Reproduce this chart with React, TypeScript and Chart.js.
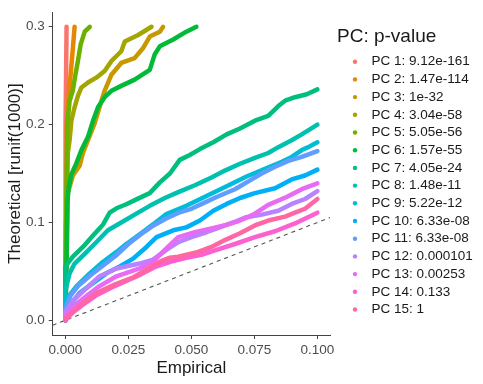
import React, { useEffect, useRef } from "react";
import { Chart, registerables } from "chart.js";

Chart.register(...registerables);

// ---- axis ticks ----
const xTicks = [0, 0.025, 0.05, 0.075, 0.1];
const yTicks = [0, 0.1, 0.2, 0.3];
const xRange = [-0.005, 0.105];
const yRange = [-0.015, 0.315];

// ---- legend ----
const legendTitle = "PC: p-value";
const seriesLabels = [
  "PC 1: 9.12e-161",
  "PC 2: 1.47e-114",
  "PC 3: 1e-32",
  "PC 4: 3.04e-58",
  "PC 5: 5.05e-56",
  "PC 6: 1.57e-55",
  "PC 7: 4.05e-24",
  "PC 8: 1.48e-11",
  "PC 9: 5.22e-12",
  "PC 10: 6.33e-08",
  "PC 11: 6.33e-08",
  "PC 12: 0.000101",
  "PC 13: 0.00253",
  "PC 14: 0.133",
  "PC 15: 1",
];
const seriesColors = [
  "#F8766D", "#E58700", "#C99800", "#A3A500", "#6BB100",
  "#00BA38", "#00BF7D", "#00C0AF", "#00BCD8", "#00B0F6",
  "#619CFF", "#B983FF", "#E76BF3", "#FD61D1", "#FF67A4",
];

// ---- reference diagonal (y = x) ----
const diagonal = [-0.005, 0.105];

// ---- series: [empirical, theoretical] ----
const pc1 = [[0, 0], [0, 0.1], [0.0002, 0.2], [0.0005, 0.3]];
const pc2 = [[0, 0], [0.0003, 0.1], [0.0006, 0.2], [0.0013, 0.228], [0.0021, 0.251], [0.003, 0.278], [0.0037, 0.3]];
const pc3 = [[0, 0], [0.0005, 0.06], [0.001, 0.13], [0.003, 0.148], [0.0057, 0.158], [0.007, 0.171], [0.009, 0.184], [0.0116, 0.201], [0.0136, 0.218], [0.0156, 0.2346], [0.0183, 0.251], [0.0222, 0.263], [0.0275, 0.268], [0.0308, 0.278], [0.0335, 0.29], [0.0375, 0.295], [0.0388, 0.3]];
const pc4 = [[0, 0], [0.0005, 0.1], [0.001, 0.171], [0.0017, 0.184], [0.0024, 0.204], [0.0037, 0.218], [0.005, 0.2295], [0.0064, 0.238], [0.009, 0.243], [0.0123, 0.248], [0.0156, 0.2547], [0.0183, 0.265], [0.0222, 0.275], [0.0236, 0.285], [0.0289, 0.2916], [0.0342, 0.3]];
const pc5 = [[0, 0], [0.0003, 0.1], [0.0008, 0.2], [0.0017, 0.224], [0.003, 0.235], [0.004, 0.251], [0.005, 0.265], [0.0061, 0.282], [0.0077, 0.295], [0.0097, 0.3]];
const pc6 = [[0, 0], [0.0005, 0.06], [0.0008, 0.12], [0.0013, 0.135], [0.0024, 0.149], [0.0044, 0.1606], [0.0064, 0.174], [0.009, 0.1875], [0.011, 0.204], [0.013, 0.218], [0.0156, 0.228], [0.0183, 0.2346], [0.0222, 0.2396], [0.0275, 0.246], [0.0335, 0.256], [0.0355, 0.272], [0.0375, 0.28], [0.0428, 0.287], [0.048, 0.295], [0.052, 0.3]];
const pc7 = [[0, 0], [0, 0.055], [0.003, 0.065], [0.007, 0.075], [0.011, 0.0867], [0.015, 0.098], [0.0176, 0.11], [0.0203, 0.1145], [0.0242, 0.1186], [0.0282, 0.1236], [0.0335, 0.13], [0.0375, 0.141], [0.0415, 0.15], [0.0454, 0.164], [0.0494, 0.169], [0.0534, 0.175], [0.0587, 0.182], [0.064, 0.19], [0.0693, 0.196], [0.0752, 0.204], [0.0805, 0.209], [0.0845, 0.219], [0.0872, 0.2245], [0.0911, 0.228], [0.0958, 0.231], [0.1, 0.236]];
const pc8 = [[0, 0], [0, 0.03], [0.0017, 0.048], [0.0037, 0.058], [0.0077, 0.068], [0.0116, 0.078], [0.0169, 0.092], [0.0222, 0.1], [0.0275, 0.108], [0.0335, 0.117], [0.0395, 0.125], [0.0448, 0.131], [0.0514, 0.138], [0.058, 0.146], [0.0633, 0.153], [0.0693, 0.16], [0.0752, 0.166], [0.0805, 0.171], [0.0845, 0.177], [0.0898, 0.184], [0.0938, 0.19], [0.1, 0.2]];
const pc9 = [[0, 0], [0, 0.02], [0.0044, 0.0346], [0.0097, 0.048], [0.015, 0.0598], [0.0203, 0.0699], [0.0242, 0.078], [0.0295, 0.088], [0.0348, 0.098], [0.0401, 0.1085], [0.048, 0.117], [0.056, 0.127], [0.064, 0.137], [0.0719, 0.147], [0.0799, 0.1555], [0.0859, 0.162], [0.0898, 0.167], [0.0938, 0.174], [0.0964, 0.177], [0.1, 0.182]];
const pc10 = [[0, 0], [0, 0.01], [0.0057, 0.028], [0.011, 0.038], [0.0163, 0.048], [0.0216, 0.055], [0.0269, 0.063], [0.0322, 0.075], [0.0362, 0.085], [0.0428, 0.092], [0.048, 0.095], [0.0534, 0.102], [0.0587, 0.112], [0.064, 0.119], [0.0693, 0.125], [0.0752, 0.13], [0.0832, 0.135], [0.0898, 0.144], [0.0951, 0.148], [0.1, 0.154]];
const pc11 = [[0, 0], [0, 0.012], [0.002, 0.025], [0.005, 0.035], [0.01, 0.046], [0.015, 0.056], [0.02, 0.066], [0.025, 0.078], [0.03, 0.088], [0.035, 0.097], [0.04, 0.104], [0.045, 0.11], [0.05, 0.114], [0.055, 0.12], [0.06, 0.126], [0.0673, 0.134], [0.0726, 0.142], [0.0779, 0.15], [0.0832, 0.157], [0.0885, 0.163], [0.0938, 0.167], [0.1, 0.173]];
const pc12 = [[0, 0], [0, 0.008], [0.003, 0.02], [0.008, 0.032], [0.0136, 0.045], [0.0203, 0.053], [0.0295, 0.058], [0.0348, 0.062], [0.0401, 0.072], [0.0448, 0.08], [0.05, 0.085], [0.056, 0.09], [0.0613, 0.095], [0.0666, 0.1], [0.0713, 0.105], [0.0779, 0.108], [0.0845, 0.112], [0.0898, 0.119], [0.0951, 0.124], [0.1, 0.132]];
const pc13 = [[0, 0], [0, 0.005], [0.004, 0.016], [0.009, 0.026], [0.0136, 0.035], [0.0203, 0.045], [0.0295, 0.053], [0.0348, 0.06], [0.0395, 0.072], [0.0448, 0.085], [0.0514, 0.09], [0.058, 0.094], [0.0646, 0.098], [0.0693, 0.102], [0.0746, 0.108], [0.0805, 0.118], [0.0878, 0.126], [0.0938, 0.134], [0.1, 0.14]];
const pc14 = [[0, 0], [0.003, 0.008], [0.007, 0.016], [0.012, 0.025], [0.018, 0.033], [0.024, 0.04], [0.03, 0.047], [0.036, 0.055], [0.042, 0.06], [0.048, 0.064], [0.054, 0.067], [0.06, 0.072], [0.0673, 0.078], [0.0752, 0.085], [0.0832, 0.091], [0.0911, 0.099], [0.1, 0.11]];
const pc15 = [[0, 0], [0, 0.002], [0.004, 0.011], [0.008, 0.02], [0.014, 0.03], [0.02, 0.037], [0.027, 0.044], [0.033, 0.053], [0.0375, 0.06], [0.0415, 0.064], [0.0448, 0.065], [0.0527, 0.07], [0.058, 0.075], [0.0633, 0.082], [0.0693, 0.089], [0.0752, 0.097], [0.0805, 0.102], [0.0872, 0.106], [0.0911, 0.11], [0.0951, 0.114], [0.1, 0.124]];

const seriesData = [pc1, pc2, pc3, pc4, pc5, pc6, pc7, pc8, pc9, pc10, pc11, pc12, pc13, pc14, pc15];

const FONT = '"Liberation Sans", Arial, Helvetica, sans-serif';

const legendPlugin = {
  id: "ggLegend",
  afterDraw(chart: any) {
    const ctx = chart.ctx as CanvasRenderingContext2D;
    ctx.save();
    ctx.textAlign = "left";
    ctx.textBaseline = "middle";
    ctx.fillStyle = "#1a1a1a";
    ctx.font = `19px ${FONT}`;
    ctx.fillText(legendTitle, 337, 37);
    ctx.font = `13.5px ${FONT}`;
    seriesLabels.forEach((lab, i) => {
      const y = 61.7 + i * 17.7;
      ctx.fillStyle = seriesColors[i];
      ctx.beginPath();
      ctx.arc(355, y, 2.2, 0, Math.PI * 2);
      ctx.fill();
      ctx.fillStyle = "#1a1a1a";
      ctx.fillText(lab, 371.5, y);
    });
    ctx.restore();
  },
};

export default function App() {
  const ref = useRef<HTMLCanvasElement | null>(null);
  useEffect(() => {
    if (!ref.current) return;
    const datasets: any[] = seriesData.map((d, i) => ({
      label: seriesLabels[i],
      data: d.map(([x, y]) => ({ x, y })),
      borderColor: seriesColors[i],
      backgroundColor: seriesColors[i],
      borderWidth: 4.5,
      borderJoinStyle: "round",
      borderCapStyle: "round",
      pointRadius: 0,
      showLine: true,
      tension: 0,
      order: 20 - i,
    }));
    datasets.push({
      label: "diag",
      data: diagonal.map((v) => ({ x: v, y: v })),
      borderColor: "#555555",
      borderWidth: 1.1,
      borderDash: [4, 4],
      pointRadius: 0,
      showLine: true,
      order: 100,
    });
    const chart = new Chart(ref.current, {
      type: "scatter",
      data: { datasets },
      plugins: [legendPlugin],
      options: {
        responsive: false,
        animation: false,
        devicePixelRatio: 1,
        layout: { padding: { left: 0, right: 153, top: 8.5, bottom: 0 } },
        plugins: { legend: { display: false }, tooltip: { enabled: false } },
        scales: {
          x: {
            type: "linear",
            min: xRange[0],
            max: xRange[1],
            afterFit: (s: any) => { s.height = 49; },
            afterBuildTicks: (s: any) => { s.ticks = xTicks.map((v) => ({ value: v })); },
            ticks: {
              callback: (v: any) => Number(v).toFixed(3),
              color: "#4d4d4d",
              font: { family: FONT, size: 13.5 },
              padding: 3,
              maxRotation: 0,
              autoSkip: false,
            },
            grid: { display: true, drawOnChartArea: false, drawTicks: true, tickLength: 4, color: "#444444", lineWidth: 1 },
            border: { display: true, color: "#444444", width: 1 },
            title: { display: true, text: "Empirical", color: "#1a1a1a", font: { family: FONT, size: 17 }, padding: { top: 0, bottom: 5.8 } },
          },
          y: {
            type: "linear",
            min: yRange[0],
            max: yRange[1],
            afterFit: (s: any) => { s.width = 52.7; },
            afterBuildTicks: (s: any) => { s.ticks = yTicks.map((v) => ({ value: v })); },
            ticks: {
              callback: (v: any) => Number(v).toFixed(1),
              color: "#4d4d4d",
              font: { family: FONT, size: 13.5 },
              padding: 4,
              autoSkip: false,
            },
            grid: { display: true, drawOnChartArea: false, drawTicks: true, tickLength: 4, color: "#444444", lineWidth: 1 },
            border: { display: true, color: "#444444", width: 1 },
            title: { display: true, text: "Theoretical [runif(1000)]", color: "#1a1a1a", font: { family: FONT, size: 17 }, padding: { top: 4.8, bottom: 0 } },
          },
        },
      } as any,
    });
    return () => chart.destroy();
  }, []);
  return (
    <div style={{ position: "fixed", left: 0, top: 0, width: 483, height: 384, background: "#ffffff" }}>
      <canvas ref={ref} width={483} height={384} style={{ display: "block" }} />
    </div>
  );
}
